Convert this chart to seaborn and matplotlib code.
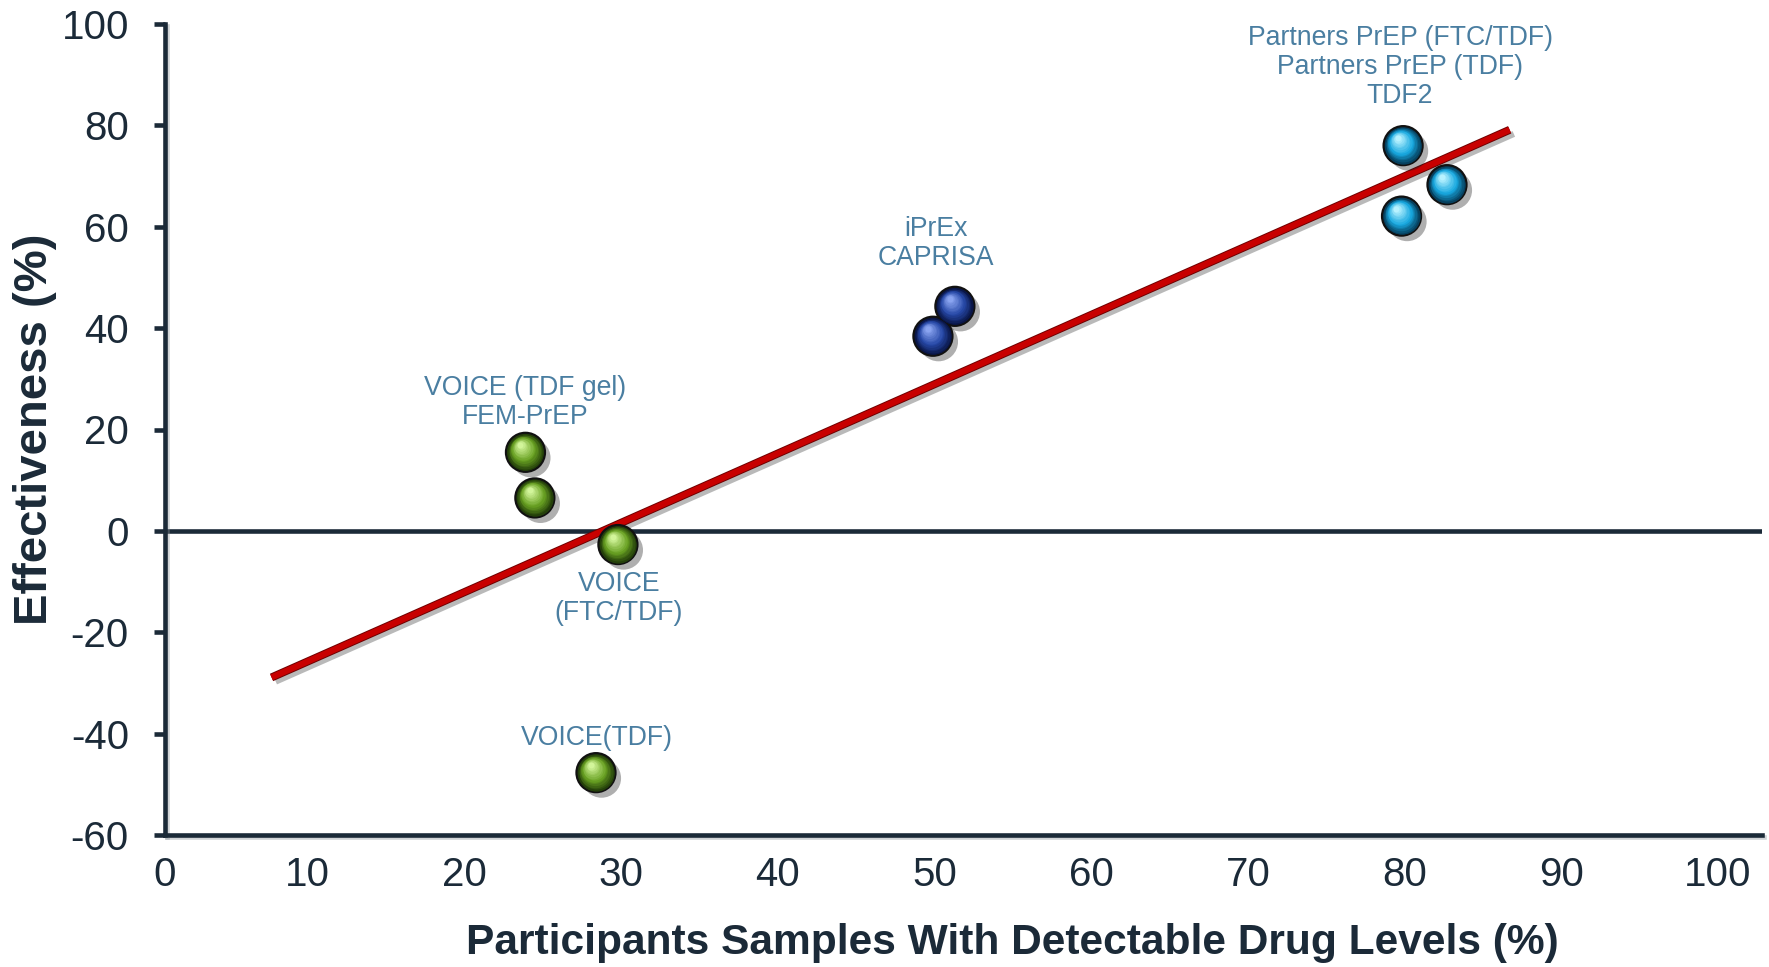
import numpy as np
import pandas as pd
import matplotlib
matplotlib.use('Agg')
import matplotlib.pyplot as plt
import matplotlib.patheffects as pe
from matplotlib.transforms import offset_copy
import seaborn as sns

# Data
STUDY_GROUP = ['low', 'low', 'low', 'low', 'mid', 'mid', 'high', 'high', 'high']
DRUG_DETECTED = [23.9, 24.5, 29.8, 28.4, 49.9, 51.3, 79.9, 82.7, 79.8]
EFFECTIVENESS = [15.5, 6.5, -2.7, -47.7, 38.4, 44.3, 76.0, 68.3, 62.1]
FIT_X = [7.7, 86.7]          # extent of the drawn regression line
X_TICKS = [0, 10, 20, 30, 40, 50, 60, 70, 80, 90, 100]
Y_TICKS = [-60, -40, -20, 0, 20, 40, 60, 80, 100]

# Labels: (text, index of the point it sits by, offset in pixels, vertical anchor)
LABELS = [
    ('VOICE (TDF gel)\nFEM-PrEP', 0, (0, 22), 'bottom'),
    ('VOICE\n(FTC/TDF)', 2, (1, -26), 'top'),
    ('VOICE(TDF)', 3, (1, 22), 'bottom'),
    ('iPrEx\nCAPRISA', 5, (-19, 35), 'bottom'),
    ('Partners PrEP (FTC/TDF)\nPartners PrEP (TDF)\nTDF2', 6, (-3, 37), 'bottom'),
]

# Style
DARK = '#1b2a38'
LABEL_BLUE = '#4a7ea1'
SPHERES = {
    'low': ('#68a022', '#d2f59a', '#24400a'),
    'mid': ('#2648a6', '#8aa4f0', '#0a1647'),
    'high': ('#18a8e0', '#b8f2ff', '#06405e'),
}
W, H, DPI = 1769, 967, 100

sns.set_theme(style='white')
plt.rcParams['font.family'] = ['Liberation Sans', 'DejaVu Sans']

df = pd.DataFrame({'x': DRUG_DETECTED, 'y': EFFECTIVENESS, 'group': STUDY_GROUP})

fig = plt.figure(figsize=(W / DPI, H / DPI), dpi=DPI)
ax = fig.add_axes([165 / W, (H - 835) / H, (1762 - 165) / W, (835 - 24) / H])

# zero line
ax.axhline(0, color=DARK, lw=3.3, zorder=2)

# regression line across the drawn span
slope, intercept = np.polyfit(df['x'], df['y'], 1)
fit = pd.DataFrame({'x': FIT_X})
fit['y'] = intercept + slope * fit['x']
sns.lineplot(data=fit, x='x', y='y', ax=ax, color='#c80000', lw=4.4, zorder=3,
             solid_capstyle='butt',
             path_effects=[pe.SimpleLineShadow(offset=(3, -3), alpha=0.3, shadow_color='k'),
                           pe.Stroke(linewidth=5.8, foreground='#6e0000'),
                           pe.Normal()])

# spheres: base ball then layered highlight toward the upper left
size = 790
sns.scatterplot(data=df, x='x', y='y', hue='group',
                palette={g: c[2] for g, c in SPHERES.items()},
                s=size, edgecolor='#111111', linewidth=1.6, legend=False, ax=ax, zorder=4,
                path_effects=[pe.SimplePatchShadow(offset=(4, -4), alpha=0.35,
                                                   shadow_rgbFace='k'),
                              pe.Normal()])
steps = 14
for g, (base, light, deep) in SPHERES.items():
    sub = df[df['group'] == g]
    c0 = np.array(matplotlib.colors.to_rgb(deep))
    c1 = np.array(matplotlib.colors.to_rgb(base))
    c2 = np.array(matplotlib.colors.to_rgb(light))
    for k in range(steps):
        t = k / (steps - 1)
        frac = 0.93 - 0.78 * t
        if t < 0.4:
            col = c0 + (c1 - c0) * (t / 0.4)
        else:
            col = c1 + (c2 - c1) * ((t - 0.4) / 0.6)
        shift = 7.5 * t
        tr = offset_copy(ax.transData, fig=fig, x=-shift * 0.7, y=shift, units='dots')
        ax.scatter(sub['x'], sub['y'], s=size * frac ** 2, color=col, lw=0,
                   transform=tr, zorder=5)

# labels
for text, idx, off, va in LABELS:
    ax.annotate(text, (DRUG_DETECTED[idx], EFFECTIVENESS[idx]), xytext=off,
                textcoords='offset pixels', ha='center', va=va, fontsize=19.2,
                color=LABEL_BLUE, linespacing=1.15, zorder=6)

# axes
ax.set_xlim(0.9, 102.8)
ax.set_ylim(-60, 100)
xt = [0.9] + X_TICKS[1:]
ax.set_xticks(xt)
ax.set_xticklabels([str(v) for v in X_TICKS])
ax.set_yticks(Y_TICKS)
ax.set_yticklabels([str(v) for v in Y_TICKS])
ax.tick_params(axis='x', length=0, pad=15, labelsize=29, labelcolor=DARK)
ax.tick_params(axis='y', direction='out', length=8, width=3.3, color=DARK,
               pad=18, labelsize=29, labelcolor=DARK, left=True)
for side in ['top', 'right']:
    ax.spines[side].set_visible(False)
for side in ['left', 'bottom']:
    ax.spines[side].set_color(DARK)
    ax.spines[side].set_linewidth(3.3)
    ax.spines[side].set_path_effects([
        pe.SimpleLineShadow(offset=(1.5, -1.5), alpha=0.4, shadow_color='#8a9399'),
        pe.Normal()])
ax.grid(False)

ax.set_xlabel('Participants Samples With Detectable Drug Levels (%)',
              fontsize=30.6, fontweight='bold', color=DARK)
ax.xaxis.set_label_coords((1012 - 165) / 1597, -0.109)
ax.set_ylabel('Effectiveness (%)', fontsize=34, fontweight='bold', color=DARK)
ax.yaxis.set_label_coords((57 - 165) / 1597, 0.5)

fig.savefig('out.png', dpi=DPI)
